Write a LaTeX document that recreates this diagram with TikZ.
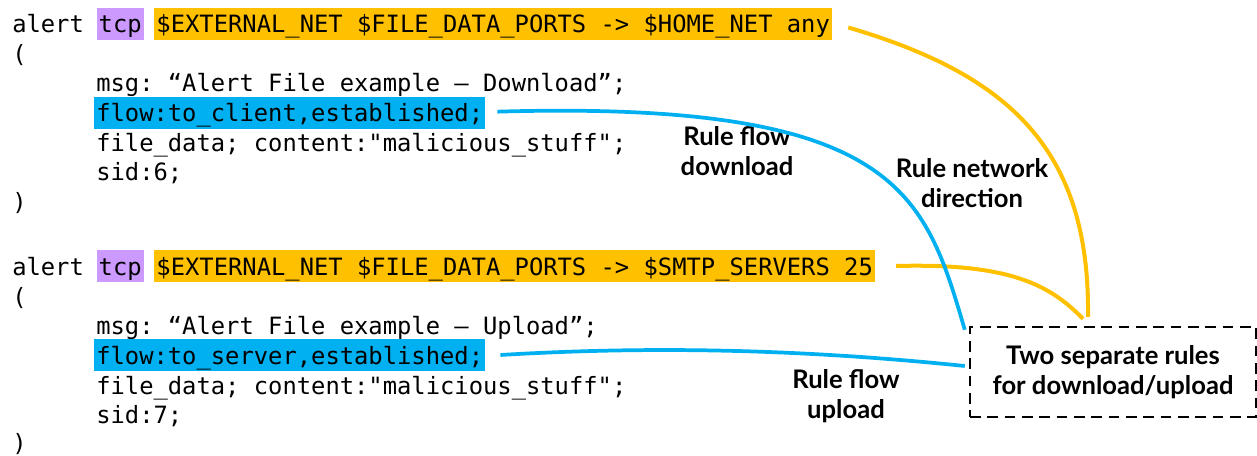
\documentclass[tikz,border=0pt]{standalone}
\usepackage{fontspec}
\setmonofont{DejaVu Sans Mono}
\newfontfamily\notefont{Lato}
\usetikzlibrary{positioning}

\definecolor{protocolor}{HTML}{CC99FF}
\definecolor{netcolor}{HTML}{FFC000}
\definecolor{flowcolor}{HTML}{00B0F0}

\tikzset{
  code/.style={inner sep=0pt,anchor=base west,font=\ttfamily\fontsize{17.85}{21}\selectfont},
  hlbox/.style={code,inner xsep=1.5pt,text height=18.4pt,text depth=4.9pt},
  note/.style={align=center,inner sep=0pt,font=\notefont\bfseries\fontsize{19.2}{22.5}\selectfont},
  dashbox/.style={note,draw,line width=1.8pt,dash pattern=on 8pt off 5pt,minimum width=214.5pt,minimum height=67.5pt},
  netline/.style={netcolor,line width=3pt},
  flowline/.style={flowcolor,line width=2.8pt}
}

\begin{document}
\begin{tikzpicture}[x=0.75pt,y=-0.75pt]
  \useasboundingbox (0,0) rectangle (1257,456);

  % download rule
  \node[code] (alert1) at (12,33) {alert};
  \node[hlbox,fill=protocolor,base right=9.2pt of alert1] (tcp1) {tcp};
  \node[hlbox,fill=netcolor,base right=7.7pt of tcp1] (net1) {\$EXTERNAL\_NET \$FILE\_DATA\_PORTS -> \$HOME\_NET any};
  \node[code] (open1) at (12,63) {(};
  \node[code] (msg1) at (96,92) {msg: “Alert File example – Download”;};
  \node[hlbox,fill=flowcolor] (flow1) at (94,122) {flow:to\_client,established;};
  \node[code] (data1) at (96,152) {file\_data; content:"malicious\_stuff";};
  \node[code] (sid1) at (96,181) {sid:6;};
  \node[code] (close1) at (12,211) {)};

  % upload rule
  \node[code] (alert2) at (12,275) {alert};
  \node[hlbox,fill=protocolor,base right=9.2pt of alert2] (tcp2) {tcp};
  \node[hlbox,fill=netcolor,base right=7.7pt of tcp2] (net2) {\$EXTERNAL\_NET \$FILE\_DATA\_PORTS -> \$SMTP\_SERVERS 25};
  \node[code] (open2) at (12,305) {(};
  \node[code] (msg2) at (96,334) {msg: “Alert File example – Upload”;};
  \node[hlbox,fill=flowcolor] (flow2) at (94,364) {flow:to\_server,established;};
  \node[code] (data2) at (96,394) {file\_data; content:"malicious\_stuff";};
  \node[code] (sid2) at (96,423) {sid:7;};
  \node[code] (close2) at (12,451) {)};

  % notes
  \node[note] (dlnote) at (737,151) {Rule flow\\download};
  \node[note] (netnote) at (972,183) {Rule network\\direction};
  \node[note] (ulnote) at (846,396) {Rule flow\\upload};
  \node[dashbox] (both) at (1113,372) {Two separate rules\\for download/upload};

  \draw[netline] ([xshift=12pt,yshift=-2.6pt]net1.east) .. controls (1010,75) and (1090,150) .. ([xshift=-18.75pt,yshift=6.75pt]both.north);
  \draw[netline] ([xshift=15.75pt]net2.east) .. controls (1010,263) and (1050,285) .. ([xshift=-22.5pt,yshift=5.25pt]both.north);
  \draw[flowline] ([xshift=9pt,yshift=1pt]flow1.east) .. controls (900,100) and (925,195) .. ([xshift=-3pt,yshift=-3pt]both.north west);
  \draw[flowline] ([xshift=11.25pt]flow2.east) .. controls (650,346) and (800,349) .. ([xshift=-3pt,yshift=4.5pt]both.west);
\end{tikzpicture}
\end{document}
